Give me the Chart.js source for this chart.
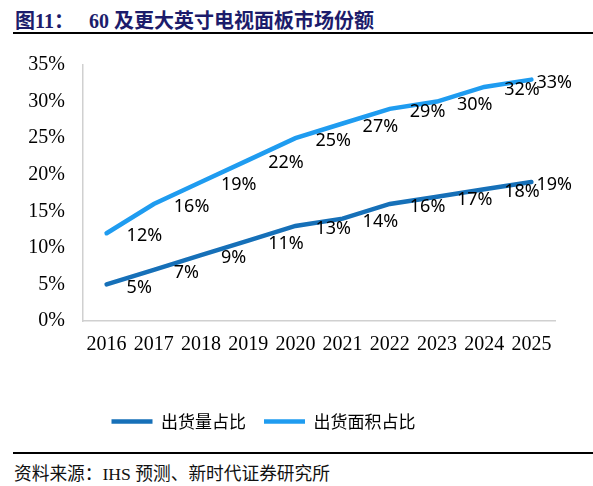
<!DOCTYPE html>
<html>
<head>
<meta charset="utf-8">
<script src="https://cdn.jsdelivr.net/npm/chart.js@4/dist/chart.umd.min.js"></script>
<style>
  html, body { margin: 0; padding: 0; background: #fff; }
  body { width: 593px; height: 486px; position: relative; overflow: hidden; }
  #title {
    position: absolute; left: 15px; top: 5px;
    font: bold 20px "Liberation Serif", "Noto Sans CJK SC", serif;
    color: #1c1c6b; white-space: pre;
  }
  .rule { position: absolute; left: 13px; right: 0; height: 2px; background: #000; }
  #source {
    position: absolute; left: 14px; top: 459px;
    font: 17.7px "Liberation Serif", "Noto Sans CJK SC", serif;
    color: #111; white-space: pre;
  }
  #wrap { position: absolute; left: 0; top: 35px; width: 593px; height: 405px; }
</style>
</head>
<body>
<div id="title">图11：   60 及更大英寸电视面板市场份额</div>
<div class="rule" style="top:32px"></div>
<div id="wrap"><canvas id="chart"></canvas></div>
<div class="rule" style="top:452px"></div>
<div id="source">资料来源：IHS 预测、新时代证券研究所</div>

<script>
const years = ['2016', '2017', '2018', '2019', '2020', '2021', '2022', '2023', '2024', '2025']
const shipmentShare = [5, 7, 9, 11, 13, 14, 16, 17, 18, 19]
const areaShare = [12, 16, 19, 22, 25, 27, 29, 30, 32, 33]
const yTicks = [0, 5, 10, 15, 20, 25, 30, 35]

// labels sit to the right of each point, kept inside the plot edge
const pointLabels = {
  id: 'pointLabels',
  afterDatasetsDraw(chart) {
    const ctx = chart.ctx
    const maxRight = chart.chartArea.right + 17
    ctx.save()
    ctx.font = '18px "Noto Sans", sans-serif'
    ctx.fillStyle = '#000'
    ctx.textBaseline = 'middle'
    ctx.textAlign = 'left'
    chart.data.datasets.forEach((ds, i) => {
      chart.getDatasetMeta(i).data.forEach((pt, j) => {
        const text = ds.data[j] + '%'
        const w = ctx.measureText(text).width
        let x = pt.x + 20
        if (x + w > maxRight) x = maxRight - w
        ctx.fillText(text, x, pt.y + 3)
      })
    })
    ctx.restore()
  }
}

// nudge the legend a bit left of the canvas centre
const legendShift = {
  id: 'legendShift',
  afterLayout(chart) {
    chart.legend.left -= 14
    chart.legend.right -= 14
  }
}

new Chart(document.getElementById('chart'), {
  type: 'line',
  data: {
    labels: years,
    datasets: [
      {
        label: '出货量占比',
        data: shipmentShare,
        borderColor: '#1670b8',
        backgroundColor: '#1670b8',
        borderWidth: 4.5,
        borderCapStyle: 'round',
        pointRadius: 0,
        pointStyle: 'line',
        tension: 0
      },
      {
        label: '出货面积占比',
        data: areaShare,
        borderColor: '#1f9cf0',
        backgroundColor: '#1f9cf0',
        borderWidth: 4.5,
        borderCapStyle: 'round',
        pointRadius: 0,
        pointStyle: 'line',
        tension: 0
      }
    ]
  },
  plugins: [pointLabels, legendShift],
  options: {
    responsive: true,
    maintainAspectRatio: false,
    animation: false,
    layout: { padding: { top: 8, right: 38, left: 0, bottom: 0 } },
    plugins: {
      tooltip: { enabled: false },
      legend: {
        position: 'bottom',
        labels: {
          usePointStyle: true,
          pointStyleWidth: 41,
          boxHeight: 17,
          padding: 18,
          color: '#000',
          font: { family: '"Noto Sans CJK SC", sans-serif', size: 17 }
        }
      }
    },
    scales: {
      x: {
        offset: true,
        grid: { display: false, drawTicks: false },
        border: { display: true, color: '#d0d0d0', width: 1.5 },
        ticks: {
          color: '#000',
          padding: 12,
          maxRotation: 0,
          font: { family: '"Liberation Serif", serif', size: 20 }
        },
        afterFit: (scale) => { scale.height = 74 }
      },
      y: {
        min: 0,
        max: 35,
        afterBuildTicks: (scale) => { scale.ticks = yTicks.map(v => ({ value: v })) },
        grid: { display: false, drawTicks: false },
        border: { display: true, color: '#d0d0d0', width: 1.5 },
        ticks: {
          color: '#000',
          padding: 18,
          callback: (v) => v + '%',
          font: { family: '"Liberation Serif", serif', size: 20 }
        },
        afterFit: (scale) => { scale.width = 83 }
      }
    }
  }
})
</script>
</body>
</html>
